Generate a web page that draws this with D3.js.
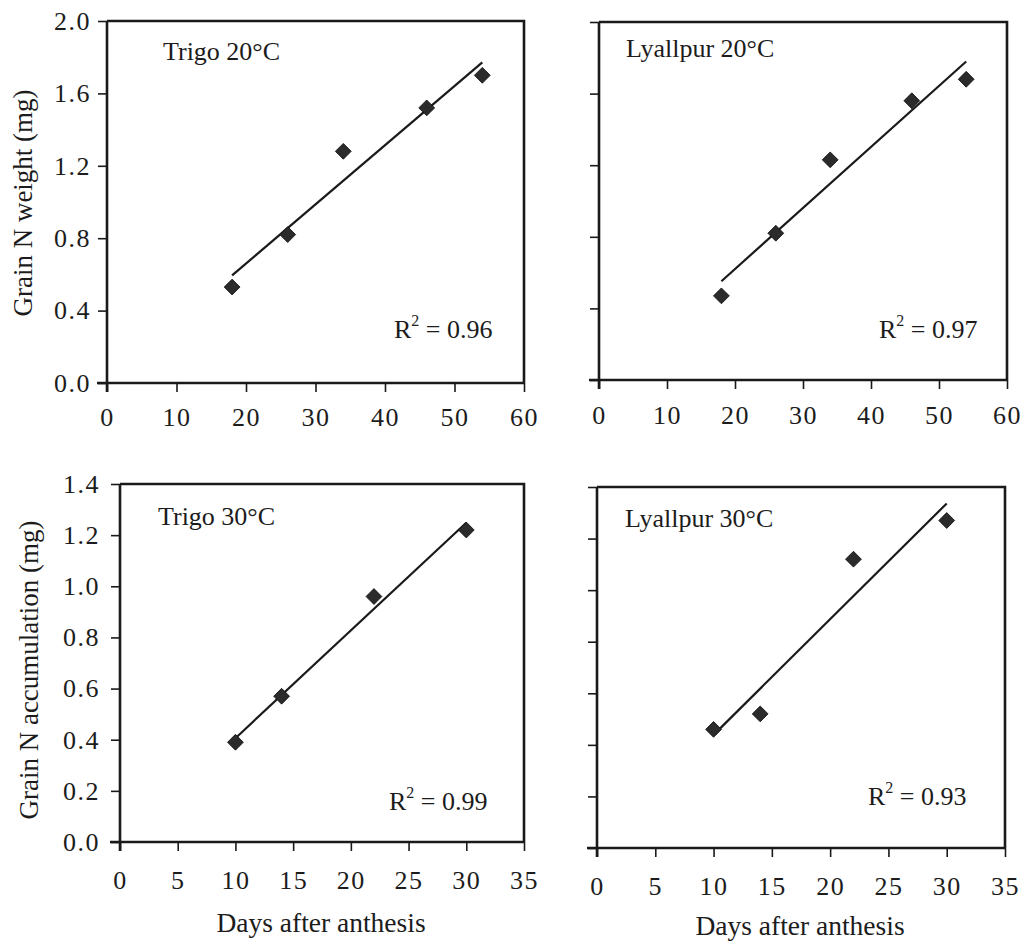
<!DOCTYPE html>
<html>
<head>
<meta charset="utf-8">
<script src="https://cdn.jsdelivr.net/npm/d3@7/dist/d3.min.js"></script>
<style>
  html, body { margin: 0; padding: 0; background: #fff; }
  svg { display: block; }
  text { font-family: "Liberation Serif", "Times New Roman", serif; fill: #1c1c1c; }
  .tick text { font-size: 26px; letter-spacing: 1.5px; }
</style>
</head>
<body>
<svg id="chart" width="1022" height="942"></svg>
<script>
// Grain N accumulation against days after anthesis, two cultivars at two temperatures
const daysTrigo20 = [18, 26, 34, 46, 54];
const nTrigo20 = [0.53, 0.82, 1.28, 1.52, 1.70];

const daysLyallpur20 = [18, 26, 34, 46, 54];
const nLyallpur20 = [0.47, 0.82, 1.23, 1.56, 1.68];

const daysTrigo30 = [10, 14, 22, 30];
const nTrigo30 = [0.39, 0.57, 0.96, 1.22];

const daysLyallpur30 = [10, 14, 22, 30];
const nLyallpur30 = [0.46, 0.52, 1.12, 1.27];

const panelTitles = ["Trigo 20°C", "Lyallpur 20°C", "Trigo 30°C", "Lyallpur 30°C"];
const r2Values = ["0.96", "0.97", "0.99", "0.93"];

const xTicks20 = [0, 10, 20, 30, 40, 50, 60];
const yTicks20 = [0.0, 0.4, 0.8, 1.2, 1.6, 2.0];
const xTicks30 = [0, 5, 10, 15, 20, 25, 30, 35];
const yTicks30 = [0.0, 0.2, 0.4, 0.6, 0.8, 1.0, 1.2, 1.4];

const yTitleTop = "Grain N weight (mg)";
const yTitleBottom = "Grain N accumulation (mg)";
const xTitle = "Days after anthesis";

// Panel frames and label placement
const panels = [
  { x: daysTrigo20, y: nTrigo20, xt: xTicks20, yt: yTicks20, box: [107, 524, 21, 383],
    yLabels: true, title: [56, 39], r2: [394, 338], xPad: 16, yPad: 7 },
  { x: daysLyallpur20, y: nLyallpur20, xt: xTicks20, yt: yTicks20, box: [599, 1007, 22, 380],
    yLabels: false, title: [27, 35], r2: [879, 338], xPad: 17, yPad: 7 },
  { x: daysTrigo30, y: nTrigo30, xt: xTicks30, yt: yTicks30, box: [120, 524, 484, 842],
    yLabels: true, title: [38, 41], r2: [389, 810], xPad: 20, yPad: 11 },
  { x: daysLyallpur30, y: nLyallpur30, xt: xTicks30, yt: yTicks30, box: [597, 1005, 487, 848],
    yLabels: false, title: [28, 40], r2: [868, 805], xPad: 20, yPad: 11 }
];

const svg = d3.select("#chart");
const ink = "#1a1a1a";

// least-squares fit through a panel's points
function linearFit(xs, ys) {
  const mx = d3.mean(xs), my = d3.mean(ys);
  let sxy = 0, sxx = 0;
  xs.forEach((x, i) => { sxy += (x - mx) * (ys[i] - my); sxx += (x - mx) ** 2; });
  const b = sxy / sxx;
  return x => my + b * (x - mx);
}

const diamond = d3.symbol().type(d3.symbolSquare).size(125);

panels.forEach((p, i) => {
  const [l, r, t, b] = p.box;
  const xs = d3.scaleLinear().domain([p.xt[0], p.xt[p.xt.length - 1]]).range([l, r]);
  const ys = d3.scaleLinear().domain([p.yt[0], p.yt[p.yt.length - 1]]).range([b, t]);
  const g = svg.append("g");

  // top and right border of the plot area
  g.append("path")
    .attr("d", `M${l},${t}H${r}V${b}`)
    .attr("fill", "none").attr("stroke", ink).attr("stroke-width", 2.6);

  const xAxis = g.append("g").attr("transform", `translate(0,${b})`)
    .call(d3.axisBottom(xs).tickValues(p.xt).tickFormat(d3.format("d"))
      .tickSize(9).tickSizeOuter(0).tickPadding(p.xPad));
  const yAxis = g.append("g").attr("transform", `translate(${l},0)`)
    .call(d3.axisLeft(ys).tickValues(p.yt).tickFormat(d3.format(".1f"))
      .tickSize(9).tickSizeOuter(0).tickPadding(p.yPad));

  [xAxis, yAxis].forEach(ax => {
    ax.attr("font-family", "Liberation Serif").attr("font-size", 26);
    ax.select(".domain").attr("stroke", ink).attr("stroke-width", 2.6);
    ax.selectAll(".tick line").attr("stroke", ink).attr("stroke-width", 1.6);
    ax.selectAll(".tick text").attr("fill", ink)
      .attr("font-family", "Liberation Serif").attr("font-size", 26);
  });
  xAxis.select(".domain").attr("d", `M${l - 10},0H${r}`);
  yAxis.select(".domain").attr("d", `M0,${t}V${b + 9}`);
  if (!p.yLabels) yAxis.selectAll(".tick text").remove();

  // fitted regression line across the sampled range
  const fit = linearFit(p.x, p.y);
  const x0 = d3.min(p.x), x1 = d3.max(p.x);
  g.append("line")
    .attr("x1", xs(x0)).attr("y1", ys(fit(x0)))
    .attr("x2", xs(x1)).attr("y2", ys(fit(x1)))
    .attr("stroke", ink).attr("stroke-width", 2.2);

  // measured points as diamonds
  g.selectAll("path.pt").data(p.x.map((x, k) => [x, p.y[k]])).enter()
    .append("path").attr("class", "pt")
    .attr("d", diamond)
    .attr("transform", d => `translate(${xs(d[0])},${ys(d[1])}) rotate(45)`)
    .attr("fill", "#2b2b2b").attr("stroke", "#111").attr("stroke-width", 0.8);

  g.append("text")
    .attr("x", l + p.title[0]).attr("y", t + p.title[1])
    .style("font-size", "26px")
    .text(panelTitles[i]);

  const rt = g.append("text").attr("x", p.r2[0]).attr("y", p.r2[1]).style("font-size", "26px");
  rt.append("tspan").text("R");
  rt.append("tspan").attr("dy", -12).style("font-size", "16px").text("2");
  rt.append("tspan").attr("dy", 12).text(" = " + r2Values[i]);
});

// axis titles
svg.append("text")
  .attr("transform", "translate(32,203) rotate(-90)")
  .attr("text-anchor", "middle").style("font-size", "27px")
  .text(yTitleTop);
svg.append("text")
  .attr("transform", "translate(38,670) rotate(-90)")
  .attr("text-anchor", "middle").style("font-size", "27px")
  .text(yTitleBottom);
svg.append("text")
  .attr("x", 321).attr("y", 932).attr("text-anchor", "middle").style("font-size", "27.5px")
  .text(xTitle);
svg.append("text")
  .attr("x", 800).attr("y", 935).attr("text-anchor", "middle").style("font-size", "27.5px")
  .text(xTitle);
</script>
</body>
</html>
